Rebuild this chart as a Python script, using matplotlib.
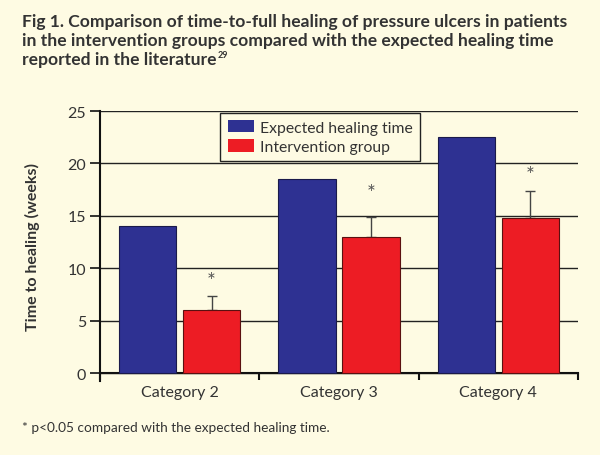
import matplotlib
matplotlib.use("Agg")
import matplotlib.pyplot as plt
from matplotlib.patches import Patch
import numpy as np

categories = ["Category 2", "Category 3", "Category 4"]
expected = [14.0, 18.5, 22.5]
intervention = [6.0, 13.0, 14.8]
intervention_err = [1.35, 1.85, 2.6]
star_y = [8.8, 17.2, 18.9]
title_lines = [
    "Fig 1. Comparison of time-to-full healing of pressure ulcers in patients",
    "in the intervention groups compared with the expected healing time",
    "reported in the literature",
]

BG = "#fefbe3"
BLUE = "#2e3192"
RED = "#ed1c24"
TXT = "#333333"
FONT = "Lato"

plt.rcParams["font.family"] = [FONT, "DejaVu Sans"]

W, H = 600, 456
fig = plt.figure(figsize=(W / 100, H / 100), dpi=100, facecolor=BG)
ax = fig.add_axes([100 / W, 1 - 382 / H, 478 / W, 270 / H])
ax.set_facecolor(BG)

x = np.arange(len(categories)) + 0.5
w = 0.36
ax.set_axisbelow(True)
ax.yaxis.grid(True, color="#222222", lw=1.0)
ax.bar(x - 0.2, expected, w, color=BLUE, edgecolor="#1a1a4a", lw=0.8, zorder=3)
ax.bar(x + 0.2, intervention, w, color=RED, edgecolor="#5a1010", lw=0.8, zorder=3)
ax.errorbar(x + 0.2, intervention, yerr=[np.zeros(3), intervention_err], fmt="none",
            ecolor="#444444", elinewidth=1.0, capsize=3.6, capthick=1.0, zorder=2)
for xi, yi in zip(x + 0.2, star_y):
    ax.text(xi, yi, "*", ha="center", va="center", fontsize=15, color="#555555")

ax.set_xlim(0, 3)
ax.set_ylim(-0.75, 25)
ax.spines["bottom"].set_position(("data", 0))
for s in ["top", "right"]:
    ax.spines[s].set_visible(False)
for s in ["left", "bottom"]:
    ax.spines[s].set_linewidth(1.5)
    ax.spines[s].set_color("#111111")

ax.set_yticks([0, 5, 10, 15, 20, 25])
ax.tick_params(axis="y", length=7, width=1.2, color="#111111", labelsize=11.5,
               labelcolor=TXT, pad=3)
ax.set_xticks([0, 1, 2, 3])
ax.set_xticklabels([])
ax.tick_params(axis="x", length=5, width=1.5, color="#111111")
for xi, c in zip(x, categories):
    ax.text(xi, -1.1, c, ha="center", va="top", fontsize=11.5, color=TXT)

ax.set_ylabel("Time to healing (weeks)", fontsize=11.5, fontweight="bold",
              color=TXT, labelpad=20)

handles = [Patch(facecolor=BLUE, edgecolor="none"), Patch(facecolor=RED, edgecolor="none")]
leg = ax.legend(handles, ["Expected healing time", "Intervention group"],
                loc="upper left", bbox_to_anchor=(0.252, 0.993), fontsize=11.3,
                frameon=True, fancybox=False, framealpha=1, borderpad=0.45,
                labelspacing=0.3, handlelength=1.7, handleheight=0.85,
                handletextpad=0.35, borderaxespad=0)
leg.get_frame().set_edgecolor("#222222")
leg.get_frame().set_facecolor(BG)
leg.get_frame().set_linewidth(1.0)
for t in leg.get_texts():
    t.set_color(TXT)

# title, three lines, plus a small superscript reference
ys = [22, 41, 60]
last = None
for line, yp in zip(title_lines, ys):
    last = fig.text(22 / W, 1 - yp / H, line, ha="left", va="center", fontsize=12.6,
                    fontweight="bold", color=TXT)
fig.canvas.draw()
bb = last.get_window_extent(fig.canvas.get_renderer())
fig.text(bb.x1 / W + 0.002, 1 - 55 / H, "29", ha="left", va="center", fontsize=6.5,
         fontweight="bold", color=TXT)

fig.text(22 / W, 1 - 428 / H, "* p<0.05 compared with the expected healing time.",
         ha="left", va="center", fontsize=9.8, color=TXT)

fig.savefig("out.png", dpi=100, facecolor=BG)
